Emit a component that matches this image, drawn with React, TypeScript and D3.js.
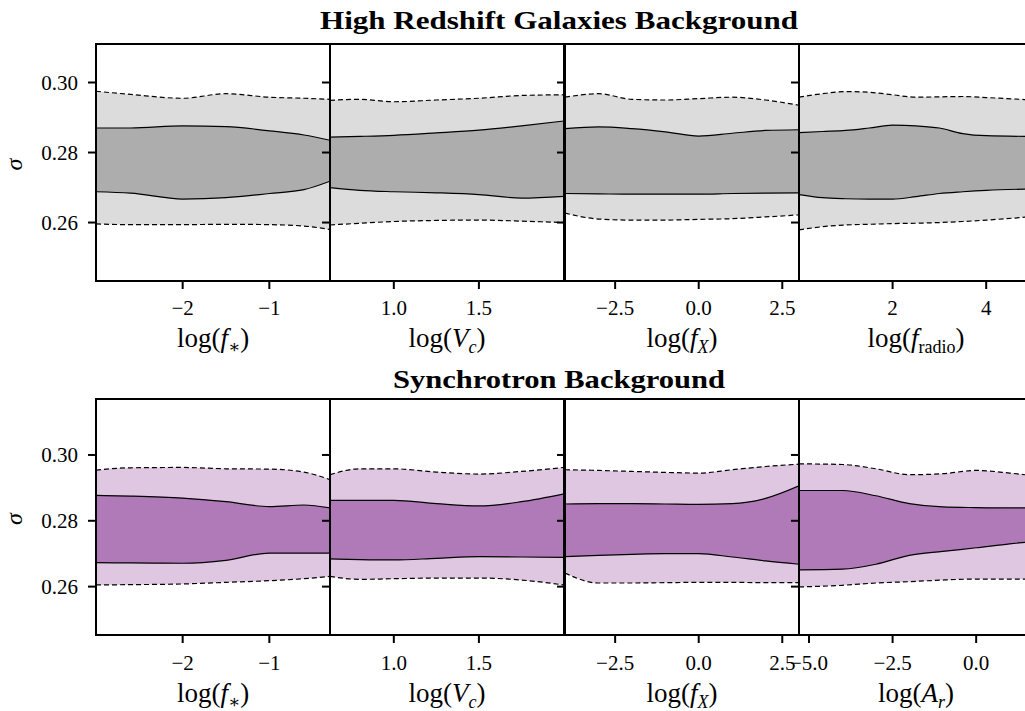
import React from "react";
import * as d3 from "d3";

// x grids for each parameter
const fstarX = [-3.0, -2.6, -2.0, -1.5, -1.0, -0.6, -0.3];
const vcX = [0.625, 0.8, 1.0, 1.25, 1.5, 1.75, 2.0];
const fxX = [-4, -3, -2, -1, 0, 1, 2, 3];
const fradioX = [0, 0.5, 1, 1.5, 2, 2.5, 3, 3.5, 4, 5];
const arX = [-5.3, -4, -3, -2, -1, 0, 1, 1.7];

// High Redshift Galaxies Background
const hrgFstarOuterHi = [0.2975, 0.2966, 0.2955, 0.2968, 0.2958, 0.2955, 0.2952];
const hrgFstarOuterLo = [0.2596, 0.2594, 0.2594, 0.2595, 0.2594, 0.259, 0.258];
const hrgFstarInnerHi = [0.287, 0.287, 0.2876, 0.2874, 0.2862, 0.285, 0.2835];
const hrgFstarInnerLo = [0.2688, 0.2684, 0.2667, 0.2671, 0.2683, 0.2694, 0.2718];

const hrgVcOuterHi = [0.2949, 0.2952, 0.2945, 0.295, 0.2955, 0.2963, 0.2965];
const hrgVcOuterLo = [0.2593, 0.2598, 0.2603, 0.2606, 0.2607, 0.2604, 0.26];
const hrgVcInnerHi = [0.2844, 0.2846, 0.2849, 0.2856, 0.2864, 0.2876, 0.289];
const hrgVcInnerLo = [0.27, 0.2692, 0.2688, 0.2685, 0.268, 0.267, 0.2675];

const hrgFxOuterHi = [0.2958, 0.2968, 0.2952, 0.295, 0.2954, 0.2958, 0.295, 0.2935];
const hrgFxOuterLo = [0.2627, 0.261, 0.2607, 0.2607, 0.2609, 0.2611, 0.2616, 0.2622];
const hrgFxInnerHi = [0.2868, 0.2873, 0.2868, 0.2859, 0.2847, 0.2855, 0.2863, 0.2865];
const hrgFxInnerLo = [0.2683, 0.2682, 0.2681, 0.2681, 0.2681, 0.2683, 0.2684, 0.2685];

const hrgFradioOuterHi = [0.2958, 0.2968, 0.2974, 0.2972, 0.2965, 0.2958, 0.2959, 0.296, 0.2957, 0.295];
const hrgFradioOuterLo = [0.2579, 0.2588, 0.2593, 0.2595, 0.2597, 0.2598, 0.26, 0.2603, 0.2607, 0.2617];
const hrgFradioInnerHi = [0.2857, 0.286, 0.2863, 0.287, 0.2878, 0.2876, 0.287, 0.2854, 0.2848, 0.2846];
const hrgFradioInnerLo = [0.268, 0.2671, 0.2668, 0.2667, 0.2667, 0.2674, 0.2683, 0.2688, 0.2692, 0.2696];

// Synchrotron Background
const synFstarOuterHi = [0.2954, 0.2961, 0.2962, 0.2958, 0.2957, 0.2948, 0.2925];
const synFstarOuterLo = [0.2605, 0.2606, 0.2608, 0.2613, 0.2618, 0.2624, 0.2631];
const synFstarInnerHi = [0.2877, 0.2875, 0.2869, 0.2858, 0.2843, 0.2848, 0.2839];
const synFstarInnerLo = [0.2673, 0.2672, 0.2671, 0.268, 0.2702, 0.2702, 0.2702];

const synVcOuterHi = [0.294, 0.2958, 0.2958, 0.2948, 0.2942, 0.295, 0.2962];
const synVcOuterLo = [0.2631, 0.2622, 0.2624, 0.2626, 0.2626, 0.262, 0.2605];
const synVcInnerHi = [0.2862, 0.2862, 0.2862, 0.2852, 0.2845, 0.2858, 0.2882];
const synVcInnerLo = [0.2684, 0.2682, 0.2681, 0.2686, 0.2691, 0.269, 0.2689];

const synFxOuterHi = [0.2955, 0.2953, 0.295, 0.2947, 0.2945, 0.2955, 0.2965, 0.2972];
const synFxOuterLo = [0.2641, 0.2611, 0.2611, 0.2612, 0.2613, 0.2613, 0.2612, 0.2612];
const synFxInnerHi = [0.2851, 0.2852, 0.2852, 0.2851, 0.285, 0.2852, 0.2868, 0.2906];
const synFxInnerLo = [0.2691, 0.2695, 0.2698, 0.27, 0.27, 0.269, 0.2678, 0.2668];

const synArOuterHi = [0.2973, 0.2971, 0.2958, 0.294, 0.2943, 0.2953, 0.2945, 0.2937];
const synArOuterLo = [0.2599, 0.2604, 0.2611, 0.2615, 0.262, 0.2623, 0.2623, 0.2623];
const synArInnerHi = [0.2892, 0.2892, 0.2876, 0.2852, 0.2842, 0.284, 0.2839, 0.2839];
const synArInnerLo = [0.2651, 0.2653, 0.2668, 0.2695, 0.2707, 0.2718, 0.273, 0.2737];

// ticks
const sigmaTicks = [0.26, 0.28, 0.3];
const fstarTicks = [-2, -1];
const vcTicks = [1.0, 1.5];
const fxTicks = [-2.5, 0.0, 2.5];
const fradioTicks = [2, 4];
const arTicks = [-5.0, -2.5, 0.0];

type Part = { t: string; it?: boolean; sub?: boolean };
const lblFstar: Part[] = [{ t: "log(" }, { t: "f", it: true }, { t: "∗", sub: true }, { t: ")" }];
const lblVc: Part[] = [{ t: "log(" }, { t: "V", it: true }, { t: "c", it: true, sub: true }, { t: ")" }];
const lblFx: Part[] = [{ t: "log(" }, { t: "f", it: true }, { t: "X", it: true, sub: true }, { t: ")" }];
const lblFradio: Part[] = [{ t: "log(" }, { t: "f", it: true }, { t: "radio", sub: true }, { t: ")" }];
const lblAr: Part[] = [{ t: "log(" }, { t: "A", it: true }, { t: "r", it: true, sub: true }, { t: ")" }];

const FONT = "'Liberation Serif', 'DejaVu Serif', serif";
const colX0 = [96, 330, 565, 799];
const colW = 234;

const mk = (domain, xs, oHi, oLo, iHi, iLo, ticks, fmt, label) => ({
  domain, xs, oHi, oLo, iHi, iLo, ticks, fmt, label,
});

const rows = [
  {
    title: "High Redshift Galaxies Background",
    titleY: 29,
    titleW: 478,
    y0: 44,
    y1: 281,
    yDomain: [0.2433, 0.311],
    tickLabelY: 315,
    labelY: 347,
    outer: "#dcdcdc",
    inner: "#adadad",
    panels: [
      mk([-3, -0.3], fstarX, hrgFstarOuterHi, hrgFstarOuterLo, hrgFstarInnerHi, hrgFstarInnerLo, fstarTicks, d3.format("d"), lblFstar),
      mk([0.625, 2.0], vcX, hrgVcOuterHi, hrgVcOuterLo, hrgVcInnerHi, hrgVcInnerLo, vcTicks, d3.format(".1f"), lblVc),
      mk([-4, 3], fxX, hrgFxOuterHi, hrgFxOuterLo, hrgFxInnerHi, hrgFxInnerLo, fxTicks, d3.format(".1f"), lblFx),
      mk([0, 5], fradioX, hrgFradioOuterHi, hrgFradioOuterLo, hrgFradioInnerHi, hrgFradioInnerLo, fradioTicks, d3.format("d"), lblFradio),
    ],
  },
  {
    title: "Synchrotron Background",
    titleY: 388,
    titleW: 332,
    y0: 399,
    y1: 635,
    yDomain: [0.2453, 0.317],
    tickLabelY: 670,
    labelY: 702,
    outer: "#dfc7e1",
    inner: "#b07ab8",
    panels: [
      mk([-3, -0.3], fstarX, synFstarOuterHi, synFstarOuterLo, synFstarInnerHi, synFstarInnerLo, fstarTicks, d3.format("d"), lblFstar),
      mk([0.625, 2.0], vcX, synVcOuterHi, synVcOuterLo, synVcInnerHi, synVcInnerLo, vcTicks, d3.format(".1f"), lblVc),
      mk([-4, 3], fxX, synFxOuterHi, synFxOuterLo, synFxInnerHi, synFxInnerLo, fxTicks, d3.format(".1f"), lblFx),
      mk([-5.3, 1.7], arX, synArOuterHi, synArOuterLo, synArInnerHi, synArInnerLo, arTicks, d3.format(".1f"), lblAr),
    ],
  },
];

function AxisLabel({ x, y, parts }) {
  const out = [];
  let shifted = false;
  parts.forEach((p, i) => {
    let dy = 0;
    if (p.sub && !shifted) { dy = 6; shifted = true; }
    else if (!p.sub && shifted) { dy = -6; shifted = false; }
    out.push(
      <tspan key={i} dy={dy} fontStyle={p.it ? "italic" : "normal"} fontSize={p.sub ? 18 : 27}>
        {p.t}
      </tspan>
    );
  });
  return (
    <text x={x} y={y} textAnchor="middle" fontFamily={FONT} fontSize={27} fill="#000">
      {out}
    </text>
  );
}

export default function App() {
  return (
    <svg width={1025} height={711} style={{ position: "absolute", left: 0, top: 0, background: "#fff" }}>
      <defs>
        {rows.map((r, ri) =>
          colX0.map((x0, ci) => (
            <clipPath id={`clip-${ri}-${ci}`} key={`${ri}-${ci}`}>
              <rect x={x0} y={r.y0} width={colW} height={r.y1 - r.y0} />
            </clipPath>
          ))
        )}
      </defs>
      {rows.map((r, ri) => {
        const y = d3.scaleLinear().domain(r.yDomain).range([r.y1, r.y0]);
        return (
          <g key={ri}>
            <text x={559} y={r.titleY} textAnchor="middle" fontFamily={FONT} fontWeight="bold" fontSize={25}
              textLength={r.titleW} lengthAdjust="spacingAndGlyphs">
              {r.title}
            </text>
            <text transform={`translate(22,${(r.y0 + r.y1) / 2 + 2}) rotate(-90)`} textAnchor="middle"
              fontFamily={FONT} fontStyle="italic" fontSize={24}>σ</text>
            {r.panels.map((p, ci) => {
              const x0 = colX0[ci];
              const x = d3.scaleLinear().domain(p.domain).range([x0, x0 + colW]);
              const idx = p.xs.map((_, i) => i);
              const area = (hi, lo) =>
                d3.area<number>().x((i) => x(p.xs[i])).y0((i) => y(lo[i])).y1((i) => y(hi[i]))
                  .curve(d3.curveMonotoneX)(idx);
              const line = (v) =>
                d3.line<number>().x((i) => x(p.xs[i])).y((i) => y(v[i])).curve(d3.curveMonotoneX)(idx);
              return (
                <g key={ci}>
                  <g clipPath={`url(#clip-${ri}-${ci})`}>
                    <path d={area(p.oHi, p.oLo)} fill={r.outer} />
                    <path d={area(p.iHi, p.iLo)} fill={r.inner} />
                    <path d={line(p.oHi)} fill="none" stroke="#000" strokeWidth={1.2} strokeDasharray="5 3" />
                    <path d={line(p.oLo)} fill="none" stroke="#000" strokeWidth={1.2} strokeDasharray="5 3" />
                    <path d={line(p.iHi)} fill="none" stroke="#000" strokeWidth={1.2} />
                    <path d={line(p.iLo)} fill="none" stroke="#000" strokeWidth={1.2} />
                  </g>
                  {p.ticks.map((t) => (
                    <g key={t}>
                      <line x1={x(t)} x2={x(t)} y1={r.y1} y2={r.y1 + 8} stroke="#000" strokeWidth={2} />
                      <text x={x(t)} y={r.tickLabelY} textAnchor="middle" fontFamily={FONT} fontSize={21}>
                        {p.fmt(t)}
                      </text>
                    </g>
                  ))}
                  {sigmaTicks.map((t) => (
                    <g key={t}>
                      <line x1={x0 - 8} x2={x0} y1={y(t)} y2={y(t)} stroke="#000" strokeWidth={2} />
                      {ci === 0 && (
                        <text x={78} y={y(t)} dy="0.35em" textAnchor="end" fontFamily={FONT} fontSize={21}>
                          {d3.format(".2f")(t)}
                        </text>
                      )}
                    </g>
                  ))}
                  <rect x={x0} y={r.y0} width={colW} height={r.y1 - r.y0} fill="none" stroke="#000" strokeWidth={2} />
                  <AxisLabel x={x0 + colW / 2} y={r.labelY} parts={p.label} />
                </g>
              );
            })}
          </g>
        );
      })}
    </svg>
  );
}
